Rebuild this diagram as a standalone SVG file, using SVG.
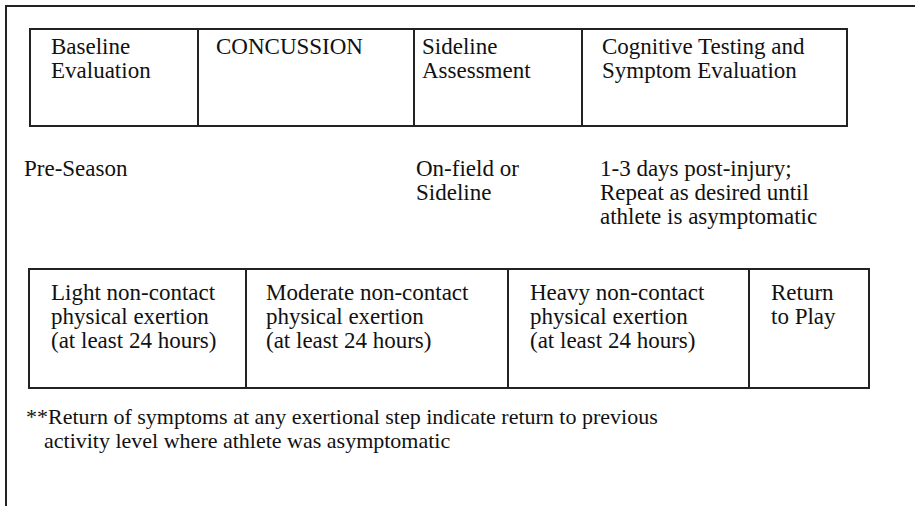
<svg xmlns="http://www.w3.org/2000/svg" width="915" height="506" viewBox="0 0 915 506">
<style>
  .ln { fill: none; stroke: #222; stroke-width: 2; }
  .t { font-family: "Liberation Serif", "Times New Roman", serif; font-size: 23px; fill: #111; }
  .fn { font-family: "Liberation Serif", "Times New Roman", serif; font-size: 22px; fill: #111; }
</style>
<rect width="915" height="506" fill="#fff"/>
<path class="ln" d="M6,506 V6 H915"/>

<g id="baseline-evaluation">
  <rect class="ln" x="30" y="29" width="168" height="97"/>
  <text class="t" x="51" y="54">Baseline</text>
  <text class="t" x="51" y="78">Evaluation</text>
</g>
<g id="concussion">
  <rect class="ln" x="198" y="29" width="216" height="97"/>
  <text class="t" x="216" y="54">CONCUSSION</text>
</g>
<g id="sideline-assessment">
  <rect class="ln" x="414" y="29" width="168" height="97"/>
  <text class="t" x="422" y="54">Sideline</text>
  <text class="t" x="422" y="78">Assessment</text>
</g>
<g id="cognitive-testing">
  <rect class="ln" x="582" y="29" width="265" height="97"/>
  <text class="t" x="602" y="54">Cognitive Testing and</text>
  <text class="t" x="602" y="78">Symptom Evaluation</text>
</g>

<g id="pre-season">
  <text class="t" x="24" y="176">Pre-Season</text>
</g>
<g id="on-field">
  <text class="t" x="416" y="176">On-field or</text>
  <text class="t" x="416" y="200">Sideline</text>
</g>
<g id="timing">
  <text class="t" x="600" y="176">1-3 days post-injury;</text>
  <text class="t" x="600" y="200">Repeat as desired until</text>
  <text class="t" x="600" y="224">athlete is asymptomatic</text>
</g>

<g id="light-exertion">
  <rect class="ln" x="29" y="269" width="217" height="119"/>
  <text class="t" x="51" y="300">Light non-contact</text>
  <text class="t" x="51" y="324">physical exertion</text>
  <text class="t" x="51" y="348">(at least 24 hours)</text>
</g>
<g id="moderate-exertion">
  <rect class="ln" x="246" y="269" width="262" height="119"/>
  <text class="t" x="266" y="300">Moderate non-contact</text>
  <text class="t" x="266" y="324">physical exertion</text>
  <text class="t" x="266" y="348">(at least 24 hours)</text>
</g>
<g id="heavy-exertion">
  <rect class="ln" x="508" y="269" width="241" height="119"/>
  <text class="t" x="530" y="300">Heavy non-contact</text>
  <text class="t" x="530" y="324">physical exertion</text>
  <text class="t" x="530" y="348">(at least 24 hours)</text>
</g>
<g id="return-to-play">
  <rect class="ln" x="749" y="269" width="120" height="119"/>
  <text class="t" x="771" y="300">Return</text>
  <text class="t" x="771" y="324">to Play</text>
</g>

<g id="footnote">
  <text class="fn" x="26" y="424">**Return of symptoms at any exertional step indicate return to previous</text>
  <text class="fn" x="44" y="448">activity level where athlete was asymptomatic</text>
</g>
<g id="connectors"></g>
</svg>
